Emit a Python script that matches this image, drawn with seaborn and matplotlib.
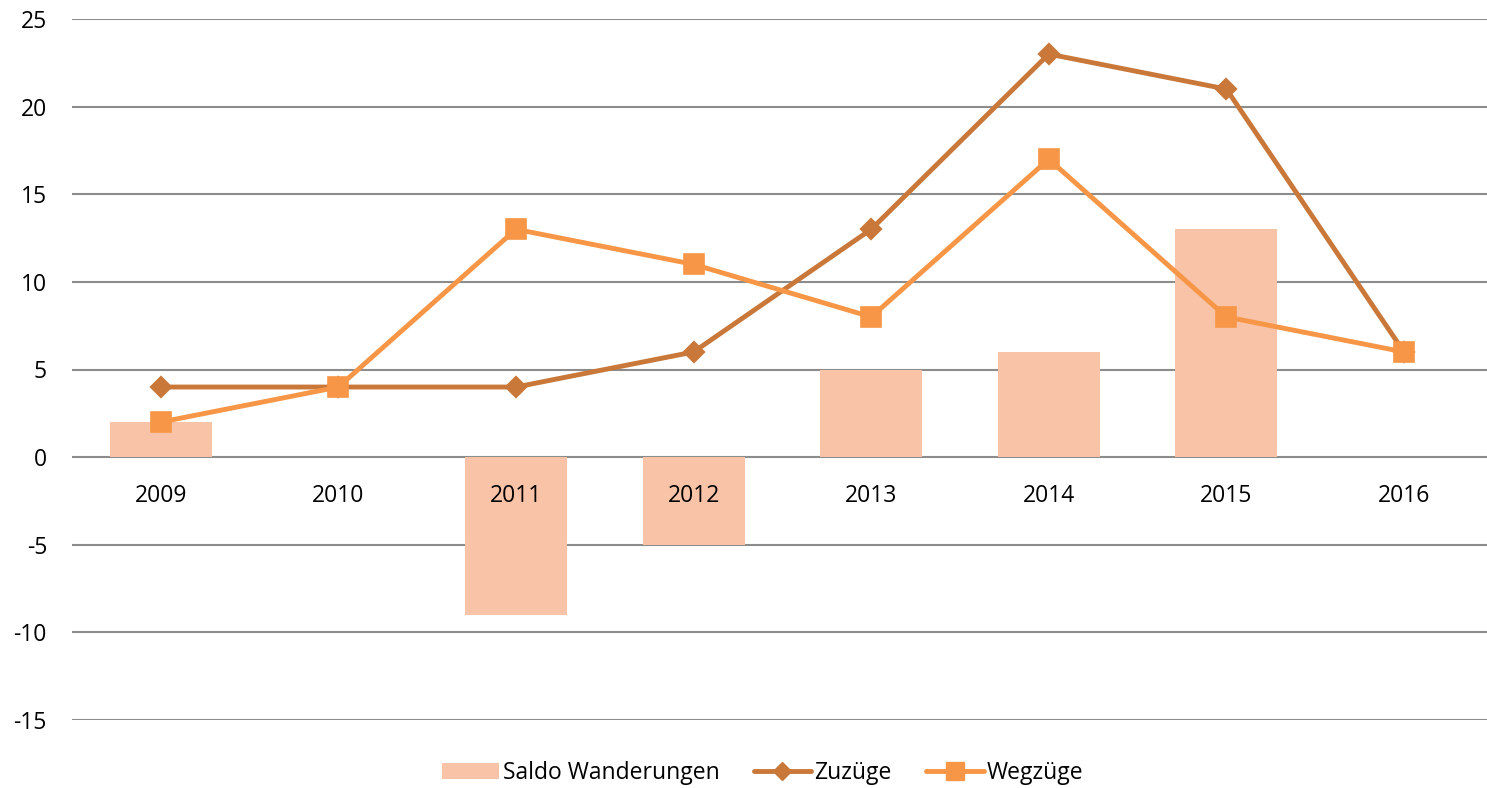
import matplotlib
matplotlib.use("Agg")
import matplotlib.pyplot as plt
import seaborn as sns
import pandas as pd
from matplotlib.patches import Patch
from matplotlib.lines import Line2D

years = ["2009", "2010", "2011", "2012", "2013", "2014", "2015", "2016"]
saldo = [2, 0, -9, -5, 5, 6, 13, 0]
zuzuege = [4, 4, 4, 6, 13, 23, 21, 6]
wegzuege = [2, 4, 13, 11, 8, 17, 8, 6]
yticks = [-15, -10, -5, 0, 5, 10, 15, 20, 25]

c_bar = "#F9C3A7"
c_zu = "#C9783A"
c_weg = "#F79646"

sns.set_theme(style="white")
plt.rcParams['font.family'] = ['Open Sans', 'DejaVu Sans']
plt.rcParams['text.color'] = 'black'
plt.rcParams['xtick.color'] = 'black'
plt.rcParams['ytick.color'] = 'black'

df = pd.DataFrame({"Jahr": years, "Saldo": saldo, "Zu": zuzuege, "Weg": wegzuege})

fig = plt.figure(figsize=(14.87, 7.88), dpi=100)
ax = fig.add_axes([72/1487, 1-720/788, 1-72/1487, (720-19)/788])

sns.barplot(data=df, x="Jahr", y="Saldo", color=c_bar, width=0.575,
            saturation=1, ax=ax, zorder=2, edgecolor="none", linewidth=0)
sns.pointplot(data=df, x="Jahr", y="Zu", color=c_zu, markers="D",
              linewidth=3.5, markersize=9, ax=ax, zorder=3)
sns.pointplot(data=df, x="Jahr", y="Weg", color=c_weg, markers="s",
              linewidth=3.5, markersize=13, ax=ax, zorder=4)

ax.set_ylim(-15, 25)
ax.set_xlim(-0.5, (1487-161)/177.57)
ax.set_yticks(yticks)
ax.set_yticklabels([str(v) for v in yticks], fontsize=16.5)
ax.yaxis.grid(True, color="#8C8C8C", linewidth=1.5)
ax.set_axisbelow(True)
for s in ax.spines.values():
    s.set_visible(False)
ax.spines['bottom'].set_position(('data', 0))
ax.tick_params(axis='x', length=0, pad=19, labelsize=16.5, colors='black')
ax.tick_params(axis='y', length=0, pad=18, colors='black')
ax.xaxis.set_zorder(5)
ax.set_xlabel("")
ax.set_ylabel("")

handles = [
    Patch(facecolor=c_bar, edgecolor="none"),
    Line2D([0], [0], color=c_zu, lw=3.5, marker="D", markersize=9),
    Line2D([0], [0], color=c_weg, lw=3.5, marker="s", markersize=13),
]
fig.legend(handles, ["Saldo Wanderungen", "Zuzüge", "Wegzüge"], loc="center",
           bbox_to_anchor=(0.513, 1-773/788), ncol=3, frameon=False, fontsize=16.5,
           handlelength=2.5, handletextpad=0.15, columnspacing=1.5)

fig.savefig("out.png", dpi=100)
